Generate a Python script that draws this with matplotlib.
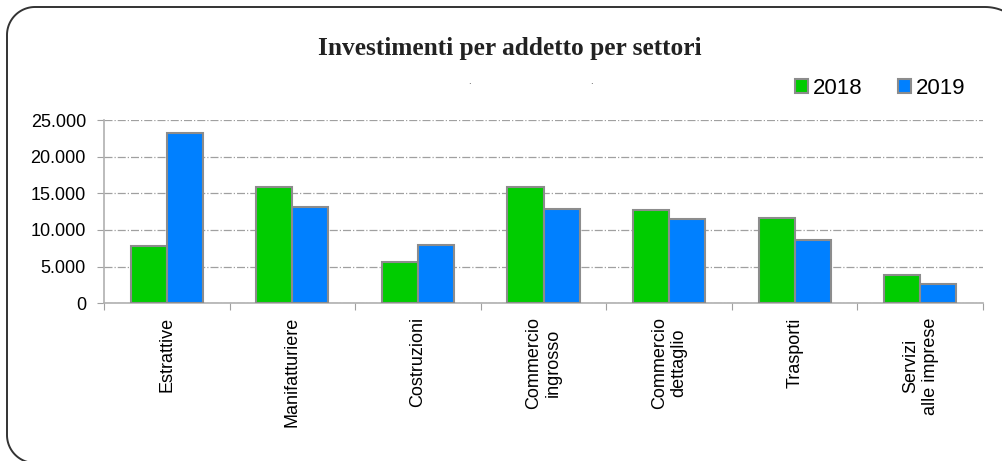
import matplotlib.pyplot as plt
import numpy as np
from matplotlib.patches import PathPatch, Patch
from matplotlib.path import Path
from matplotlib.ticker import FuncFormatter, FixedLocator

# Data
settori = ["Estrattive", "Manifatturiere", "Costruzioni", "Commercio\ningrosso",
           "Commercio\ndettaglio", "Trasporti", "Servizi\nalle imprese"]
v2018 = [7800, 15900, 5700, 15900, 12700, 11600, 3900]
v2019 = [23200, 13200, 7900, 12800, 11500, 8700, 2700]
anni = ["2018", "2019"]

green = "#00cc00"
blue = "#0080ff"
edge = "#8c8c8c"

W, H = 1003, 461
fig = plt.figure(figsize=(W / 100, H / 100), dpi=100)

# rounded frame (pixel coords, y down), it runs off the right and bottom edges
def corner(cx, cy, r, a0, a1):
    t = np.radians(np.linspace(a0, a1, 30))
    return np.column_stack([cx + r * np.cos(t), cy - r * np.sin(t)])

pts = np.vstack([
    corner(35, 435, 28, 270, 180),   # bottom-left
    corner(35, 35, 28, 180, 90),     # top-left
    corner(985, 52, 45, 90, 0),      # top-right
    corner(985, 435, 45, 0, -90),    # bottom-right
])
pts = np.vstack([pts, pts[:1]])
frame = PathPatch(Path(np.column_stack([pts[:, 0] / W, 1 - pts[:, 1] / H])),
                  transform=fig.transFigure, fill=False, ec="#333333", lw=1.4)
fig.patches.append(frame)

ax = fig.add_axes([104 / W, (H - 303.3) / H, 879 / W, 183.3 / H])
x = np.arange(len(settori))
w = 0.287
ax.bar(x - w/2, v2018, w, color=green, edgecolor=edge, linewidth=1.5, zorder=3)
ax.bar(x + w/2, v2019, w, color=blue, edgecolor=edge, linewidth=1.5, zorder=3)

ax.set_xlim(-0.5, len(settori) - 0.5)
ax.set_ylim(0, 25000)
ax.set_yticks(np.arange(0, 25001, 5000))
ax.yaxis.set_major_formatter(FuncFormatter(lambda v, p: f"{int(v):,}".replace(",", ".")))
ax.grid(axis="y", color="#a0a0a0", linestyle="-.", linewidth=0.9, zorder=0)

# category boundary ticks, labels at centers
ax.xaxis.set_major_locator(FixedLocator(np.arange(-0.5, len(settori), 1)))
ax.xaxis.set_minor_locator(FixedLocator(x))
ax.set_xticklabels([])
ax.set_xticklabels(settori, minor=True, rotation=90, ha="center", va="top",
                   multialignment="center", fontsize=13, family="Liberation Sans")
ax.tick_params(axis="x", which="major", length=5, color="#a0a0a0", direction="out")
ax.tick_params(axis="x", which="minor", length=0, pad=10)
ax.tick_params(axis="y", length=5, color="#a0a0a0", pad=8, labelsize=13)
for lab in ax.get_yticklabels():
    lab.set_family("Liberation Sans")

for s in ["top", "right"]:
    ax.spines[s].set_visible(False)
for s in ["left", "bottom"]:
    ax.spines[s].set_color("#b0b0b0")
    ax.spines[s].set_linewidth(1.2)

fig.text(510 / W, 1 - 49 / H, "Investimenti per addetto per settori", ha="center", va="center",
         fontsize=18.3, fontweight="bold", family="Liberation Serif", color="#222222")
fig.text(469 / W, 1 - 82 / H, ".", ha="center", va="center", fontsize=6, color="#222222")
fig.text(591 / W, 1 - 82 / H, ".", ha="center", va="center", fontsize=6, color="#222222")

handles = [Patch(facecolor=green, edgecolor=edge, linewidth=1.5),
           Patch(facecolor=blue, edgecolor=edge, linewidth=1.5)]
fig.legend(handles, anni, loc="center", bbox_to_anchor=(880 / W, 1 - 88 / H), ncol=2,
           frameon=False, prop={"family": "Liberation Sans", "size": 16},
           handlelength=0.6, handleheight=0.6, handletextpad=0.2, columnspacing=1.6)

fig.savefig("out.png", dpi=100)
